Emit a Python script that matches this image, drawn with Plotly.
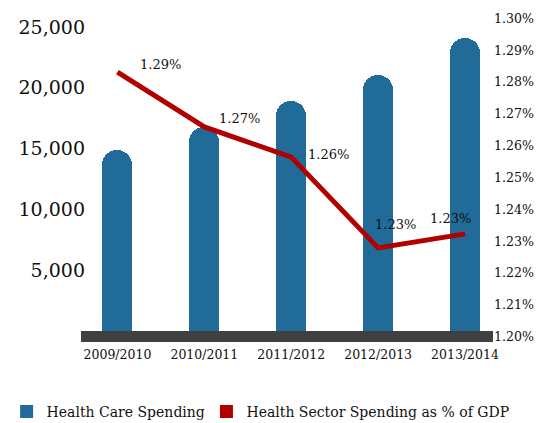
import plotly.graph_objects as go

years = ["2009/2010", "2010/2011", "2011/2012", "2012/2013", "2013/2014"]
spending = [14900, 16800, 18900, 21050, 24100]
gdp_share = [1.2831, 1.2659, 1.2564, 1.2279, 1.2323]
gdp_labels = ["1.29%", "1.27%", "1.26%", "1.23%", "1.23%"]
left_ticks = [5000, 10000, 15000, 20000, 25000]
left_tick_labels = ["5,000", "10,000", "15,000", "20,000", "25,000"]
right_ticks = [1.20, 1.21, 1.22, 1.23, 1.24, 1.25, 1.26, 1.27, 1.28, 1.29, 1.30]
right_tick_labels = ["1.20%", "1.21%", "1.22%", "1.23%", "1.24%", "1.25%",
                     "1.26%", "1.27%", "1.28%", "1.29%", "1.30%"]

BLUE = "#216b99"
RED = "#b00000"
DARK = "#404040"
TXT = "#111111"
FONT = "DejaVu Serif"

# label offsets in pixels (style only)
label_dx = [43, 35, 37, 17, -15]
label_dy = [8, 8, 3, 23, 15]

fig = go.Figure()
fig.add_trace(go.Bar(
    x=years, y=spending, name="Health Care Spending",
    marker=dict(color=BLUE, cornerradius=15, line=dict(width=0)),
    width=0.345, yaxis="y", hoverinfo="skip", showlegend=False,
))
fig.add_trace(go.Scatter(
    x=years, y=gdp_share, mode="lines", yaxis="y2",
    line=dict(color=RED, width=5), showlegend=False,
))
# legend entries (square swatches)
fig.add_trace(go.Scatter(
    x=[None], y=[None], mode="markers", yaxis="y",
    name="Health Care Spending", legend="legend",
    marker=dict(symbol="square", size=13, color=BLUE),
))
fig.add_trace(go.Scatter(
    x=[None], y=[None], mode="markers", yaxis="y2",
    name="Health Sector Spending as % of GDP", legend="legend2",
    marker=dict(symbol="square", size=13, color=RED),
))

for i, (yr, v, lab) in enumerate(zip(years, gdp_share, gdp_labels)):
    fig.add_annotation(x=yr, y=v, yref="y2", text=lab, showarrow=False,
                       xshift=label_dx[i], yshift=label_dy[i],
                       font=dict(family=FONT, size=13, color=TXT))

# thick dark baseline
fig.add_shape(type="rect", xref="paper", yref="y", x0=-0.0123, x1=1.0,
              y0=-905, y1=0, fillcolor=DARK, line=dict(width=0), layer="above")

legend_common = dict(orientation="h", xref="container", yref="container",
                     xanchor="left", yanchor="middle", bgcolor="rgba(0,0,0,0)",
                     font=dict(family=FONT, size=14, color=TXT), itemwidth=30)

fig.update_layout(
    width=552, height=423,
    margin=dict(l=86, r=59, t=18, b=81, autoexpand=False),
    paper_bgcolor="white", plot_bgcolor="white",
    font=dict(family=FONT, color=TXT),
    showlegend=True,
    legend=dict(x=0.012, y=0.026, **legend_common),
    legend2=dict(x=0.374, y=0.026, **legend_common),
    xaxis=dict(range=[-0.362, 4.322], showgrid=False, zeroline=False,
               showline=False, ticks="", tickfont=dict(size=12.5),
               ticklabelstandoff=3),
    yaxis=dict(range=[-905, 25740], tickvals=left_ticks, ticktext=left_tick_labels,
               showgrid=False, zeroline=False, showline=False, ticks="",
               tickfont=dict(size=19)),
    yaxis2=dict(range=[1.19834, 1.3001], tickvals=right_ticks,
                ticktext=right_tick_labels, overlaying="y", side="right",
                showgrid=False, zeroline=False, showline=False, ticks="",
                tickfont=dict(size=12.6)),
    bargap=0,
)

fig.write_html("out.html", config={"displayModeBar": False},
               post_script="document.body.style.margin='0';")
